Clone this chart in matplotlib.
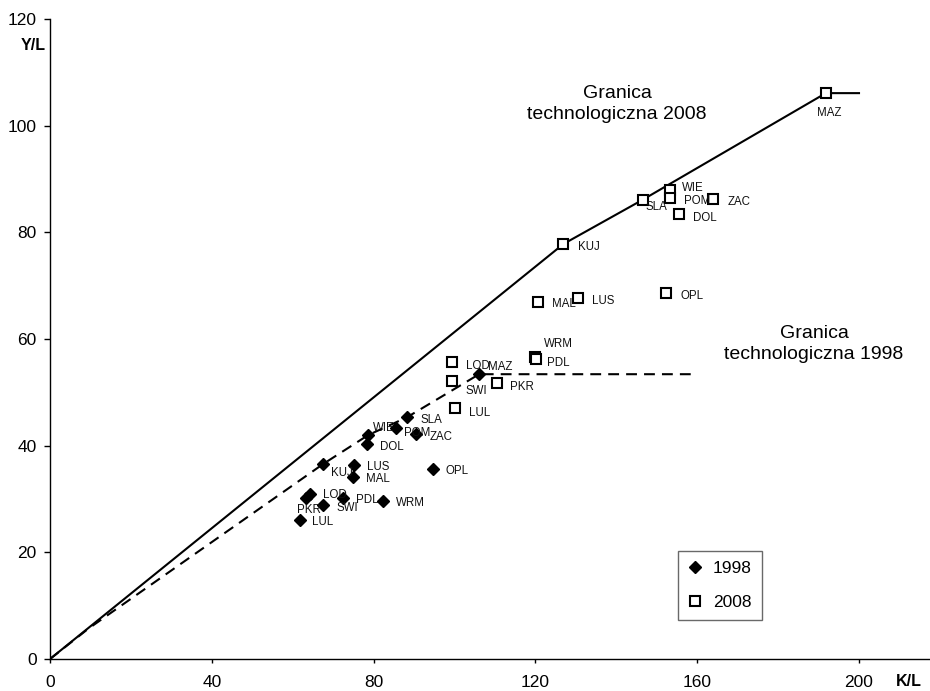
import matplotlib
matplotlib.use("Agg")
import matplotlib.pyplot as plt
from matplotlib.lines import Line2D

plt.rcParams['font.family'] = ['Liberation Sans', 'DejaVu Sans']

# ---- data ----
regions_1998 = ["LUL", "PKR", "LOD", "SWI", "PDL", "WRM", "KUJ", "LUS", "MAL",
                "DOL", "WIE", "POM", "ZAC", "SLA", "OPL", "MAZ"]
kl_1998 = [61.8, 63.2, 64.3, 67.6, 72.4, 82.4, 67.6, 75.2, 74.8,
           78.3, 78.7, 85.5, 90.6, 88.2, 94.6, 106.1]
yl_1998 = [26.1, 30.1, 30.9, 28.9, 30.2, 29.7, 36.6, 36.3, 34.2,
           40.4, 42.0, 43.3, 42.1, 45.3, 35.7, 53.4]

regions_2008 = ["LOD", "SWI", "LUL", "PKR", "MAL", "LUS", "OPL", "WRM", "PDL",
                "KUJ", "SLA", "WIE", "POM", "ZAC", "DOL", "MAZ"]
kl_2008 = [99.5, 99.5, 100.1, 110.4, 120.6, 130.6, 152.4, 119.8, 120.2,
           126.9, 146.5, 153.3, 153.3, 164.0, 155.6, 191.8]
yl_2008 = [55.6, 52.1, 47.0, 51.8, 67.0, 67.6, 68.6, 56.6, 56.2,
           77.8, 86.1, 87.9, 86.5, 86.3, 83.4, 106.1]

frontier_2008_k = [0, 126.9, 146.5, 191.8, 200]
frontier_2008_y = [0, 77.8, 86.1, 106.1, 106.1]
frontier_1998_k = [0, 9.5, 67.6, 78.7, 88.2, 106.1, 160]
frontier_1998_y = [0, 5.7, 36.6, 42.0, 45.3, 53.4, 53.4]

x_ticks = [0, 40, 80, 120, 160, 200]
y_ticks = [0, 20, 40, 60, 80, 100, 120]

# label offsets (pixels) and alignment per point
off_1998 = {
    "LUL": (12, -2, 'left'), "PKR": (3, -12, 'center'), "LOD": (13, -1, 'left'),
    "SWI": (13, -3, 'left'), "PDL": (13, -2, 'left'), "WRM": (13, -2, 'left'),
    "KUJ": (8, -9, 'left'), "LUS": (13, -2, 'left'), "MAL": (13, -2, 'left'),
    "DOL": (13, -3, 'left'), "WIE": (5, 7, 'left'), "POM": (8, -5, 'left'),
    "ZAC": (13, -3, 'left'), "SLA": (14, -3, 'left'), "OPL": (13, -2, 'left'),
    "MAZ": (9, 7, 'left'),
}
off_2008 = {
    "LOD": (14, -4, 'left'), "SWI": (13, -10, 'left'), "LUL": (14, -5, 'left'),
    "PKR": (13, -4, 'left'), "MAL": (14, -2, 'left'), "LUS": (14, -3, 'left'),
    "OPL": (14, -3, 'left'), "WRM": (9, 13, 'left'), "PDL": (11, -4, 'left'),
    "KUJ": (15, -3, 'left'), "SLA": (3, -7, 'left'), "WIE": (12, 2, 'left'),
    "POM": (14, -3, 'left'), "ZAC": (14, -3, 'left'), "DOL": (14, -4, 'left'),
    "MAZ": (3, -20, 'center'),
}

fig = plt.figure(figsize=(9.3, 6.91), dpi=100)
ax = fig.add_axes([50/930, 1 - 659/691, 880/930, 640/691])

ax.plot(frontier_2008_k, frontier_2008_y, color='black', lw=1.5, zorder=2)
ax.plot(frontier_1998_k, frontier_1998_y, color='black', lw=1.5,
        ls=(0, (5.2, 3.4)), zorder=2)

ax.plot(kl_1998, yl_1998, ls='none', marker='D', ms=6.3, color='black',
        zorder=4)
ax.plot(kl_2008, yl_2008, ls='none', marker='s', ms=6.6, mfc='white',
        mec='black', mew=1.5, zorder=4)

for name, x, y in zip(regions_1998, kl_1998, yl_1998):
    dx, dy, ha = off_1998[name]
    ax.annotate(name, (x, y), xytext=(dx, dy), textcoords='offset pixels',
                ha=ha, va='center', fontsize=8.3, color='#111111', zorder=5)
for name, x, y in zip(regions_2008, kl_2008, yl_2008):
    dx, dy, ha = off_2008[name]
    ax.annotate(name, (x, y), xytext=(dx, dy), textcoords='offset pixels',
                ha=ha, va='center', fontsize=8.3, color='#111111', zorder=5)

ax.set_xlim(0, 880/4.045)
ax.set_ylim(0, 120)
ax.set_xticks(x_ticks)
ax.set_yticks(y_ticks)
ax.set_xticklabels([str(v) for v in x_ticks])
ax.set_yticklabels([str(v) for v in y_ticks])
for s in ['top', 'right']:
    ax.spines[s].set_visible(False)
for s in ['left', 'bottom']:
    ax.spines[s].set_linewidth(1.0)
ax.tick_params(axis='x', direction='out', length=3, width=1, pad=8.5,
               labelsize=12.5)
ax.tick_params(axis='y', direction='out', length=4.5, width=1, pad=5,
               labelsize=12.5)

fig.text(33/930, 1 - 45/691, "Y/L", ha='center', va='center',
         fontsize=11.5, fontweight='bold')
fig.text(909/930, 1 - 682/691, "K/L", ha='center', va='center',
         fontsize=11.5, fontweight='bold')

fig.text(617/930, 1 - 104/691, "Granica\ntechnologiczna 2008", ha='center',
         va='center', fontsize=14, linespacing=1.35)
fig.text(814/930, 1 - 344/691, "Granica\ntechnologiczna 1998", ha='center',
         va='center', fontsize=14, linespacing=1.35)

handles = [
    Line2D([], [], ls='none', marker='D', ms=6.3, color='black'),
    Line2D([], [], ls='none', marker='s', ms=6.6, mfc='white', mec='black',
           mew=1.5),
]
leg = ax.legend(handles, ["1998", "2008"], loc='lower left',
                bbox_to_anchor=((678 - 50)/880, (659 - 620)/640),
                borderaxespad=0, frameon=True, fancybox=False, fontsize=12.5,
                handlelength=0.8, handletextpad=0.6, labelspacing=1.05,
                borderpad=0.6)
leg.get_frame().set_edgecolor('#444444')
leg.get_frame().set_linewidth(1.0)

fig.savefig("out.png", dpi=100)
